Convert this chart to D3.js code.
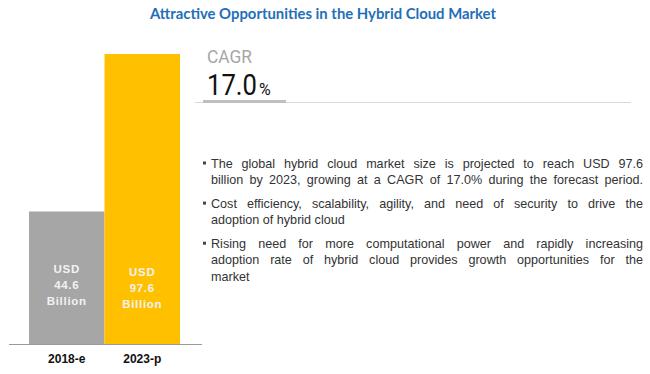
<!DOCTYPE html>
<html><head><meta charset="utf-8">
<script src="https://cdn.jsdelivr.net/npm/d3@7"></script>
<style>html,body{margin:0;padding:0;background:#fff;}svg{display:block;}</style>
</head><body>
<svg id="c" width="650" height="374"></svg>
<script>
const title = "Attractive Opportunities in the Hybrid Cloud Market";
const categories = ["2018-e", "2023-p"];
const values = [44.6, 97.6];
const barColors = ["#A6A6A6", "#FFC000"];
const cagrLabel = "CAGR";
const cagrValue = "17.0";
const bulletLines = [
  ["The global hybrid cloud market size is projected to reach USD 97.6",
   "billion by 2023, growing at a CAGR of 17.0% during the forecast period."],
  ["Cost efficiency, scalability, agility, and need of security to drive the",
   "adoption of hybrid cloud"],
  ["Rising need for more computational power and rapidly increasing",
   "adoption rate of hybrid cloud provides growth opportunities for the",
   "market"]
];

const svg = d3.select("#c");

svg.append("text").attr("x", 150).attr("y", 19)
  .attr("font-family", "Lato, 'Open Sans', sans-serif").attr("font-weight", "bold")
  .attr("font-size", 14.5).attr("fill", "#1F6FB8")
  .attr("textLength", 346).attr("lengthAdjust", "spacingAndGlyphs").text(title);

const x = d3.scaleBand().domain(categories).range([29, 180]).padding(0);
const y = d3.scaleLinear().domain([0, 97.6]).range([344, 54]);

svg.selectAll("rect.bar").data(categories).join("rect").attr("class", "bar")
  .attr("x", d => x(d)).attr("width", x.bandwidth())
  .attr("y", (d, i) => y(values[i])).attr("height", (d, i) => y(0) - y(values[i]))
  .attr("fill", (d, i) => barColors[i]);

svg.append("line").attr("x1", 9).attr("x2", 202).attr("y1", 344.5).attr("y2", 344.5)
  .attr("stroke", "#9a9a9a").attr("stroke-width", 1);

const xAxis = d3.axisBottom(x).tickSize(0).tickPadding(0);
const ax = svg.append("g").attr("transform", "translate(0,354)").call(xAxis);
ax.select(".domain").remove();
ax.selectAll("text").attr("font-family", "Arial, 'Liberation Sans', sans-serif")
  .attr("font-weight", "bold").attr("font-size", 12).attr("fill", "#111").attr("dy", "0.71em");

const lblOffsets = [[273, 289, 305], [276, 292, 308]];
categories.forEach((c, i) => {
  const lines = ["USD", values[i].toFixed(1), "Billion"];
  lines.forEach((t, j) => {
    svg.append("text").attr("x", x(c) + x.bandwidth() / 2).attr("y", lblOffsets[i][j])
      .attr("text-anchor", "middle").attr("font-family", "Arial, 'Liberation Sans', sans-serif")
      .attr("font-weight", "bold").attr("font-size", 11.5).attr("letter-spacing", 0.7)
      .attr("fill", "#f2f2f2").text(t);
  });
});

// CAGR block: condensed look via horizontal scaling
function condensed(str, x0, y0, size, width, color) {
  const g = svg.append("g");
  const t = g.append("text").attr("x", 0).attr("y", 0).attr("font-family", "Roboto, sans-serif")
    .attr("font-size", size).attr("fill", color).text(str);
  const w = t.node().getComputedTextLength();
  g.attr("transform", `translate(${x0},${y0}) scale(${width / w},1)`);
}
condensed(cagrLabel, 207, 63, 18, 45, "#a6a6a6");
condensed(cagrValue, 207, 95, 29, 50, "#111");
svg.append("text").attr("x", 259).attr("y", 95).attr("font-family", "Roboto, sans-serif").attr("fill", "#111")
  .attr("font-size", 16).text("%");
svg.append("line").attr("x1", 195).attr("x2", 631).attr("y1", 102.5).attr("y2", 102.5)
  .attr("stroke", "#d9d9d9").attr("stroke-width", 1);
svg.append("line").attr("x1", 203).attr("x2", 286).attr("y1", 101.5).attr("y2", 101.5)
  .attr("stroke", "#bfbfbf").attr("stroke-width", 3);

// bullets, justified
const textX = 211, textRight = 643, fs = 12.6, lh = 16.6, paraGap = 23.5;
const font = "'Liberation Sans', Arial, sans-serif";
let baseY = 167.5;
bulletLines.forEach(lines => {
  svg.append("rect").attr("x", 203).attr("y", baseY - 6).attr("width", 3).attr("height", 3).attr("fill", "#444");
  lines.forEach((ln, k) => {
    const t = svg.append("text").attr("x", textX).attr("y", baseY + k * lh)
      .attr("font-family", font).attr("font-size", fs).attr("fill", "#333").text(ln);
    const wdt = t.node().getComputedTextLength();
    const nSp = ln.split(" ").length - 1;
    const target = textRight - textX;
    if (wdt > target) {
      t.attr("textLength", target).attr("lengthAdjust", "spacingAndGlyphs");
    } else if (nSp > 3 && wdt > target * 0.8) {
      t.attr("word-spacing", (target - wdt) / nSp);
    }
  });
  baseY += (lines.length - 1) * lh + paraGap;
});
</script>
</body></html>
